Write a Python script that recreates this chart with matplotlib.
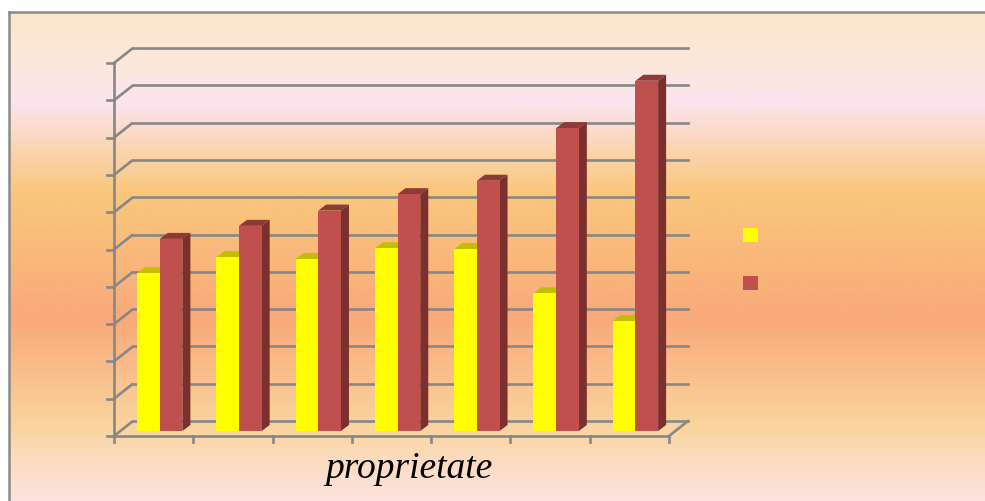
import numpy as np
import matplotlib.pyplot as plt
from matplotlib.patches import Polygon, Patch
from matplotlib.colors import LinearSegmentedColormap

# ---------------------------------------------------------------
# Date (scara 0-100, linii la fiecare 10)
# ---------------------------------------------------------------
categorii = ['1', '2', '3', '4', '5', '6', '7']
serie_galben = [42.3, 46.6, 46.1, 49.0, 48.8, 36.9, 29.5]
serie_rosu = [51.5, 55.0, 59.1, 63.5, 67.1, 81.2, 93.9]
nume_serii = ['', '']
valori_grila = np.arange(0, 101, 10)
eticheta_x = 'proprietate'

# culori
GALBEN, GALBEN_SUS = '#FFFF00', '#C4BE00'
ROSU, ROSU_SUS, ROSU_LAT = '#C0504D', '#8E3A37', '#7B302E'
GRI = '#878787'

W, H = 985, 502
fig = plt.figure(figsize=(W / 100, H / 100), dpi=100)
fig.patch.set_facecolor('white')

# --- fundal cu gradient (zona chenarului, iese in dreapta/jos) ---
x0_bg, y_top_bg = 9, 13
bg = fig.add_axes([x0_bg / W, -0.02, 1.02 - x0_bg / W, 1.02 - y_top_bg / H], zorder=0)
stops = [(0.00, '#FBE6C9'), (0.10, '#FCE8DC'), (0.18, '#FCE4EE'),
         (0.36, '#F9C77C'), (0.62, '#F9A97A'), (0.83, '#FAD49C'),
         (0.90, '#FBDCC0'), (1.00, '#FDE4E4')]
cmap = LinearSegmentedColormap.from_list('fundal', stops)
grad = np.linspace(0, 1, 400).reshape(-1, 1)
bg.imshow(grad, cmap=cmap, aspect='auto', extent=[0, 1, 0, 1], origin='upper')
bg.set_xticks([])
bg.set_yticks([])
for s in ['right', 'bottom']:
    bg.spines[s].set_visible(False)
for s in ['left', 'top']:
    bg.spines[s].set_color('#8A8A8A')
    bg.spines[s].set_linewidth(1.8)

# --- axa principala (coordonate de date) ---
px_x0, px_x1 = 114, 669      # podea fata
px_y0, px_y1 = 437, 64       # 0 si 100
ax = fig.add_axes([px_x0 / W, 1 - px_y0 / H, (px_x1 - px_x0) / W, (px_y0 - px_y1) / H], zorder=1)
ax.set_xlim(0, len(categorii))
ax.set_ylim(0, 100)
ax.set_axis_off()
ax.patch.set_alpha(0)

ux = (px_x1 - px_x0) / len(categorii)   # px per categorie
uy = (px_y0 - px_y1) / 100.0            # px per unitate
DX, DY = 19 / ux, 15 / uy               # adancime perete
n = len(categorii)
lw = 1.9

# pereti: linii de grila laterale si din spate
for v in valori_grila:
    ax.plot([0, DX], [v, v + DY], color=GRI, lw=lw, clip_on=False, zorder=1, solid_capstyle='butt')
    ax.plot([DX, n + DX], [v + DY, v + DY], color=GRI, lw=lw, clip_on=False, zorder=1)
    ax.plot([-7 / ux, 0], [v, v], color=GRI, lw=lw, clip_on=False, zorder=1)
# axa verticala
ax.plot([0, 0], [0, 100], color=GRI, lw=lw, clip_on=False, zorder=1)
# podea
ax.plot([0, n], [0, 0], color=GRI, lw=lw, clip_on=False, zorder=1)
ax.plot([n, n + DX], [0, DY], color=GRI, lw=lw, clip_on=False, zorder=1)
for i in range(n + 1):
    ax.plot([i, i], [0, -6 / uy], color=GRI, lw=lw, clip_on=False, zorder=1)

# --- bare 3D ---
yb = (437 - 432) / uy
off = 23 / ux
bw = 22.7 / ux
bdx, bdy = 8 / ux, 6 / uy
x = np.arange(n)


def fete(xs, vals, sus, lat, z):
    for xi, v in zip(xs, vals):
        top = yb + v
        ax.add_patch(Polygon([(xi, top), (xi + bw, top), (xi + bw + bdx, top + bdy), (xi + bdx, top + bdy)],
                             closed=True, facecolor=sus, edgecolor='none', clip_on=False, zorder=z))
        ax.add_patch(Polygon([(xi + bw, yb), (xi + bw + bdx, yb + bdy), (xi + bw + bdx, top + bdy), (xi + bw, top)],
                             closed=True, facecolor=lat, edgecolor='none', clip_on=False, zorder=z))


xg = x + off
xr = x + off + bw
fete(xg, serie_galben, GALBEN_SUS, '#B5B000', 2)
ax.bar(xg, serie_galben, width=bw, bottom=yb, align='edge', color=GALBEN, zorder=2.5, clip_on=False)
fete(xr, serie_rosu, ROSU_SUS, ROSU_LAT, 3)
ax.bar(xr, serie_rosu, width=bw, bottom=yb, align='edge', color=ROSU, zorder=3.5, clip_on=False)

# --- legenda (doar patratele) ---
handles = [Patch(facecolor=GALBEN, edgecolor='none'), Patch(facecolor=ROSU, edgecolor='none')]
fig.legend(handles, nume_serii, loc='upper left', bbox_to_anchor=(743 / W, 1 - 229 / H),
           frameon=False, fontsize=10.8, handlelength=1.0, handleheight=1.0,
           handletextpad=0, borderpad=0, borderaxespad=0, labelspacing=2.2)

# --- eticheta axei X ---
fig.text(409 / W, 1 - 478 / H, eticheta_x, ha='center', va='baseline',
         fontsize=27, fontstyle='italic', family='Liberation Serif', zorder=5)

plt.savefig('out.png', dpi=100)
